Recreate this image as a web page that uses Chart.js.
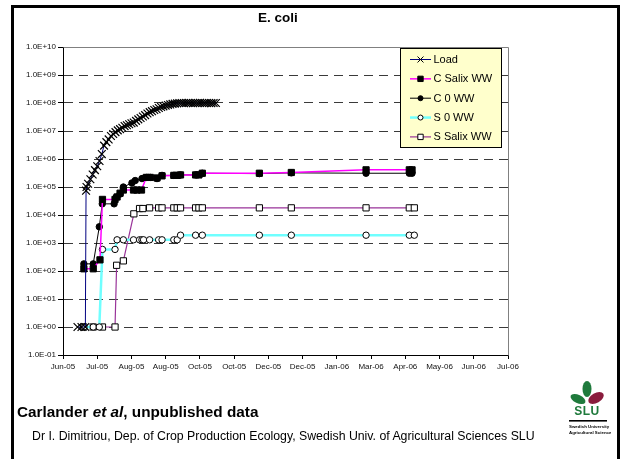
<!DOCTYPE html>
<html>
<head>
<meta charset="utf-8">
<script src="https://cdn.jsdelivr.net/npm/chart.js@4.4.1/dist/chart.umd.min.js"></script>
<style>
html,body{margin:0;padding:0;background:#fff;}
body{width:622px;height:459px;overflow:hidden;position:relative;font-family:'Liberation Sans',Arial,sans-serif;color:#000;}
#wrap{position:absolute;left:0;top:0;width:622px;height:459px;}
#frame{position:absolute;left:11px;top:5px;width:609px;height:470px;border:3px solid #000;box-sizing:border-box;pointer-events:none;}
#title{position:absolute;left:228px;width:100px;top:10.5px;text-align:center;font-weight:bold;font-size:13.5px;line-height:13px;white-space:nowrap;}
#src{position:absolute;left:17px;top:403.5px;font-weight:bold;font-size:15.3px;line-height:15px;white-space:nowrap;}
#credit{position:absolute;left:32px;top:430px;font-size:12.3px;line-height:12.3px;white-space:nowrap;}
#logo{position:absolute;left:567px;top:380px;}
</style>
</head>
<body>
<div id="wrap"><canvas id="c"></canvas></div>
<div id="frame"></div>
<div id="title">E. coli</div>
<div id="src">Carlander <i>et al</i>, unpublished data</div>
<div id="credit">Dr I. Dimitriou, Dep. of Crop Production Ecology, Swedish Univ. of Agricultural Sciences SLU</div>
<svg id="logo" width="44" height="62" viewBox="0 0 44 62">
  <ellipse cx="20" cy="9" rx="4.5" ry="8" fill="#1f7a3c"/>
  <ellipse cx="11" cy="19" rx="8" ry="4.2" fill="#1f7a3c" transform="rotate(25 11 19)"/>
  <ellipse cx="29" cy="18" rx="8.5" ry="5" fill="#8a1c3d" transform="rotate(-30 29 18)"/>
  <text x="20" y="35" text-anchor="middle" font-family="Liberation Sans, Arial, sans-serif" font-weight="bold" font-size="12" fill="#1f7a3c" letter-spacing="0.5">SLU</text>
  <rect x="2" y="40" width="38" height="1.6" fill="#000"/>
  <text x="2" y="48" font-family="Liberation Sans, Arial, sans-serif" font-weight="bold" font-size="4.4" fill="#000">Swedish University</text>
  <text x="2" y="54" font-family="Liberation Sans, Arial, sans-serif" font-weight="bold" font-size="4.4" fill="#000">Agricultural Sciences</text>
</svg>
<script>
// ---- axis definitions (x = days after the first axis tick) ----
const xTickDays = [0, 30, 60, 90, 120, 150, 180, 210, 240, 270, 300, 330, 360, 390];
const xTickLabels = ['Jun-05','Jul-05','Aug-05','Aug-05','Oct-05','Oct-05','Dec-05','Dec-05','Jan-06','Mar-06','Apr-06','May-06','Jun-06','Jul-06'];
const yTickValues = [0.1, 1, 10, 100, 1e3, 1e4, 1e5, 1e6, 1e7, 1e8, 1e9, 1e10];
const yTickLabels = ['1.0E-01','1.0E+00','1.0E+01','1.0E+02','1.0E+03','1.0E+04','1.0E+05','1.0E+06','1.0E+07','1.0E+08','1.0E+09','1.0E+10'];
const seriesNames = ['Load', 'C Salix WW', 'C 0 WW', 'S 0 WW', 'S Salix WW'];

// ---- series ----
const loadDays = [12.7, 16.2, 19.6, 20.2, 20.6, 22, 24, 26, 28, 30, 32, 34, 36, 38, 40, 42, 44, 46, 48, 50, 52, 54, 56, 58, 60, 62, 64, 66, 68, 70, 72, 74, 76, 78, 80, 82, 84, 86, 88, 90, 92, 94, 96, 98, 100, 102, 104, 106, 108, 110, 112, 114, 116, 118, 120, 122, 124, 126, 128, 130, 132, 134];
const loadValues = [1, 1, 1, 7.4e4, 1.0e5,
  1.3e5, 1.9e5, 2.8e5, 4.0e5, 5.5e5, 8.5e5, 1.5e6, 3.0e6, 4.0e6, 5.0e6,
  6.6e6, 7.8e6, 9.1e6, 1.05e7, 1.17e7, 1.3e7, 1.5e7, 1.6e7, 1.75e7, 1.9e7,
  2.0e7, 2.3e7, 2.6e7, 2.9e7, 3.3e7, 3.7e7, 4.2e7, 4.7e7, 5.1e7, 5.6e7,
  6.0e7, 6.6e7, 7.2e7, 7.6e7, 8.1e7, 8.5e7, 8.9e7, 9.3e7, 9.5e7, 9.8e7, 1.0e8,
  1.0e8, 9.9e7, 1.0e8, 1.01e8, 1.0e8, 9.9e7, 1.0e8, 1.0e8, 1.01e8, 1.0e8, 9.9e7, 1.0e8, 1.0e8, 9.9e7, 1.0e8, 1.0e8];

const cSalixDays = [18.3, 26.5, 32.4, 34.6, 45.6, 47.4, 50.0, 52.9, 61.8, 64.8, 68.8, 73.0, 76.5, 82.4, 86.8, 97.1, 100.1, 103.0, 116.2, 119.1, 122.1, 172.1, 200.1, 265.6, 303.5, 305.9];
const cSalixValues = [1.2e2, 1.2e2, 2.5e2, 3.6e4, 3.6e4, 4.4e4, 6.0e4, 7.8e4, 7.8e4, 7.8e4, 7.8e4, 2.2e5, 2.2e5, 2.1e5, 2.5e5, 2.6e5, 2.6e5, 2.7e5, 2.7e5, 2.7e5, 3.1e5, 3.1e5, 3.3e5, 4.1e5, 4.1e5, 4.1e5];

const c0Days = [18.3, 26.5, 31.8, 34.4, 44.8, 46.6, 50.0, 52.9, 60.4, 63.3, 69.2, 73.0, 76.5, 82.4, 86.8, 97.1, 103.0, 116.2, 122.1, 172.1, 200.1, 265.6, 303.5, 305.9];
const c0Values = [1.8e2, 1.8e2, 3.8e3, 2.5e4, 2.5e4, 4.3e4, 5.6e4, 1.0e5, 1.4e5, 1.7e5, 2.0e5, 2.2e5, 2.2e5, 2.0e5, 2.6e5, 2.6e5, 2.7e5, 2.7e5, 3.1e5, 3.0e5, 3.2e5, 3.1e5, 3.1e5, 3.1e5];

const s0Days = [18.3, 26.5, 31.8, 34.6, 45.6, 47.4, 52.9, 61.8, 67.1, 69.2, 70.6, 75.9, 83.8, 86.8, 97.1, 100.1, 103.0, 116.2, 122.1, 172.1, 200.1, 265.6, 303.5, 307.9];
const s0Values = [1, 1, 1, 5.9e2, 5.9e2, 1.3e3, 1.3e3, 1.3e3, 1.3e3, 1.3e3, 1.3e3, 1.3e3, 1.3e3, 1.3e3, 1.3e3, 1.3e3, 1.9e3, 1.9e3, 1.9e3, 1.9e3, 1.9e3, 1.9e3, 1.9e3, 1.9e3];

const sSalixDays = [18.3, 26.5, 34.6, 45.6, 47.0, 52.9, 62.1, 67.1, 70.0, 75.9, 83.8, 86.8, 97.1, 100.1, 103.0, 116.2, 119.1, 122.1, 172.1, 200.1, 265.6, 303.5, 307.9];
const sSalixValues = [1, 1, 1, 1, 1.6e2, 2.3e2, 1.1e4, 1.7e4, 1.7e4, 1.8e4, 1.8e4, 1.8e4, 1.8e4, 1.8e4, 1.8e4, 1.8e4, 1.8e4, 1.8e4, 1.8e4, 1.8e4, 1.8e4, 1.8e4, 1.8e4];

const toXY = (xs, ys) => xs.map((x, i) => ({x: x, y: ys[i]}));

const styles = [
  {line: '#000080', width: 1, point: 'crossRot', radius: 5.5, fill: '#000', stroke: '#000', pbw: 1.2},
  {line: '#ff00ff', width: 1.5, point: 'rect', radius: 4.4, fill: '#000', stroke: '#000', pbw: 1},
  {line: '#000000', width: 1, point: 'circle', radius: 3.2, fill: '#000', stroke: '#000', pbw: 1},
  {line: '#70ffff', width: 2.5, point: 'circle', radius: 3.2, fill: '#fff', stroke: '#000', pbw: 1},
  {line: '#993399', width: 1.2, point: 'rect', radius: 4.4, fill: '#fff', stroke: '#000', pbw: 1}
];
const seriesData = [
  toXY(loadDays, loadValues),
  toXY(cSalixDays, cSalixValues),
  toXY(c0Days, c0Values),
  toXY(s0Days, s0Values),
  toXY(sSalixDays, sSalixValues)
];

const datasets = seriesNames.map((name, i) => ({
  label: name,
  data: seriesData[i],
  borderColor: styles[i].line,
  borderWidth: styles[i].width,
  pointStyle: styles[i].point,
  pointRadius: styles[i].radius,
  pointBackgroundColor: styles[i].fill,
  pointBorderColor: styles[i].stroke,
  pointBorderWidth: styles[i].pbw,
  tension: 0,
  fill: false
}));

function drawMark(ctx, st, x, y) {
  ctx.save();
  ctx.lineWidth = 1;
  ctx.fillStyle = st.fill;
  ctx.strokeStyle = st.stroke;
  ctx.beginPath();
  if (st.point === 'circle') {
    ctx.arc(x, y, st.radius - 0.5, 0, Math.PI * 2);
    ctx.fill(); ctx.stroke();
  } else if (st.point === 'rect') {
    const s = st.radius * Math.SQRT1_2;
    ctx.rect(x - s, y - s, 2 * s, 2 * s);
    ctx.fill(); ctx.stroke();
  } else {
    const s = st.radius * Math.SQRT1_2;
    ctx.moveTo(x - s, y - s); ctx.lineTo(x + s, y + s);
    ctx.moveTo(x - s, y + s); ctx.lineTo(x + s, y - s);
    ctx.stroke();
  }
  ctx.restore();
}

const plotFrame = {
  id: 'plotFrame',
  beforeDatasetsDraw(chart) {
    const a = chart.chartArea, ctx = chart.ctx;
    ctx.save();
    ctx.strokeStyle = '#808080';
    ctx.lineWidth = 1;
    ctx.beginPath();
    ctx.moveTo(Math.round(a.left) + 0.5, Math.round(a.top) + 0.5);
    ctx.lineTo(Math.round(a.right) + 0.5, Math.round(a.top) + 0.5);
    ctx.lineTo(Math.round(a.right) + 0.5, Math.round(a.bottom) + 0.5);
    ctx.stroke();
    ctx.restore();
  }
};

const boxLegend = {
  id: 'boxLegend',
  afterDraw(chart) {
    const a = chart.chartArea, ctx = chart.ctx;
    const x0 = Math.round(a.right) - 108, y0 = Math.round(a.top) + 1, w = 101, h = 99;
    ctx.save();
    ctx.fillStyle = '#ffffcc';
    ctx.fillRect(x0, y0, w, h);
    ctx.strokeStyle = '#000';
    ctx.lineWidth = 1;
    ctx.strokeRect(x0 + 0.5, y0 + 0.5, w, h);
    ctx.font = "11px 'Liberation Sans', Arial, sans-serif";
    ctx.textBaseline = 'middle';
    ctx.textAlign = 'left';
    chart.data.datasets.forEach((ds, i) => {
      const y = y0 + 11.5 + i * 19.35;
      const st = styles[i];
      ctx.strokeStyle = st.line;
      ctx.lineWidth = st.width;
      ctx.beginPath();
      ctx.moveTo(x0 + 10, y); ctx.lineTo(x0 + 31, y);
      ctx.stroke();
      drawMark(ctx, {point: st.point, radius: st.point === 'circle' ? 3 : (st.point === 'rect' ? 3.8 : 4.2), fill: st.fill, stroke: st.stroke}, x0 + 20.5, y);
      ctx.fillStyle = '#000';
      ctx.fillText(ds.label, x0 + 33.5, y + 0.5);
    });
    ctx.restore();
  }
};

Chart.defaults.font.family = "'Liberation Sans', Arial, sans-serif";
Chart.defaults.color = '#000';

new Chart(document.getElementById('c'), {
  type: 'line',
  data: {datasets: datasets},
  options: {
    responsive: true,
    maintainAspectRatio: false,
    animation: false,
    layout: {padding: {left: 0, top: 47, right: 114, bottom: 84}},
    plugins: {legend: {display: false}, title: {display: false}, tooltip: {enabled: false}},
    scales: {
      x: {
        type: 'linear',
        min: xTickDays[0],
        max: xTickDays[xTickDays.length - 1],
        afterBuildTicks: (scale) => { scale.ticks = xTickDays.map(v => ({value: v})); },
        afterFit: (scale) => { scale.height = 20; },
        ticks: {
          autoSkip: false, maxRotation: 0, padding: 3,
          font: {size: 8}, color: '#111',
          callback: (v, i) => xTickLabels[i]
        },
        grid: {drawOnChartArea: false, tickLength: 4, tickColor: '#000'},
        border: {color: '#000', width: 1}
      },
      y: {
        type: 'logarithmic',
        min: yTickValues[0],
        max: yTickValues[yTickValues.length - 1],
        afterBuildTicks: (scale) => { scale.ticks = yTickValues.map(v => ({value: v})); },
        afterFit: (scale) => { scale.width = 63; },
        ticks: {
          padding: 2, font: {size: 8}, color: '#111',
          callback: (v, i) => yTickLabels[i]
        },
        grid: {color: '#3a3a3a', lineWidth: 1, tickLength: 5, tickColor: '#000'},
        border: {color: '#000', width: 1, dash: [9, 6]}
      }
    }
  },
  plugins: [plotFrame, boxLegend]
});
</script>
</body>
</html>
